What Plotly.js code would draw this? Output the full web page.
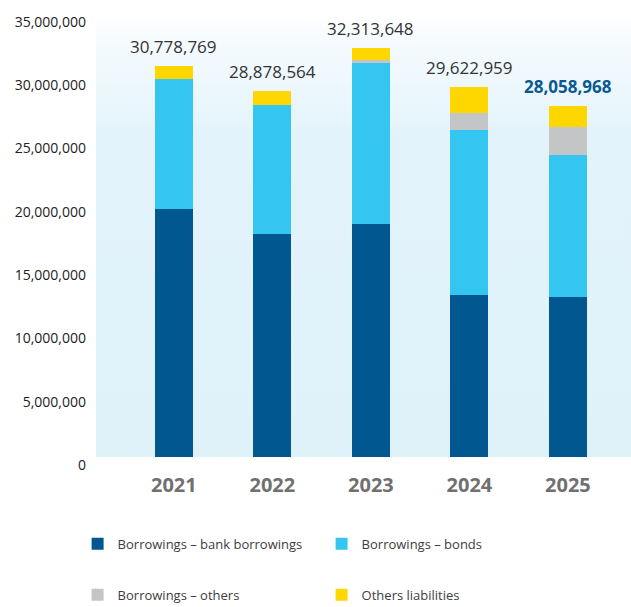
<!DOCTYPE html>
<html>
<head>
<meta charset="utf-8">
<script src="https://cdn.plot.ly/plotly-3.0.1.min.js"></script>
<style>html,body{margin:0;padding:0;background:#fff;}#chart{width:631px;height:607px;}</style>
</head>
<body>
<div id="chart"></div>
<script>
const years = ["2021", "2022", "2023", "2024", "2025"];
const bankBorrowings = [19600000, 17600000, 18400000, 12800000, 12640000];
const bonds = [10270000, 10200000, 12700000, 13040000, 11220000];
const otherBorrowings = [0, 0, 250000, 1310000, 2190000];
const otherLiabilities = [1000000, 1100000, 1000000, 2080000, 1680000];
const totalLabels = ["30,778,769", "28,878,564", "32,313,648", "29,622,959", "28,058,968"];
const yTickVals = [0, 5000000, 10000000, 15000000, 20000000, 25000000, 30000000, 35000000];
const yTickText = ["0", "5,000,000", "10,000,000", "15,000,000", "20,000,000", "25,000,000", "30,000,000", "35,000,000"];

const FONT = "Open Sans, DejaVu Sans, sans-serif";

function barTrace(name, vals, color, legend) {
  return {
    type: "bar", x: years, y: vals, name: name,
    marker: {color: color, line: {width: 0}},
    hoverinfo: "skip", legend: legend
  };
}

const data = [
  barTrace("Borrowings – bank borrowings", bankBorrowings, "#01578f", "legend"),
  barTrace("Borrowings – bonds", bonds, "#35c5f1", "legend"),
  barTrace("Borrowings – others", otherBorrowings, "#c4c5c7", "legend2"),
  barTrace("Others liabilities", otherLiabilities, "#ffd700", "legend2")
];

// stack top of each column, from the series themselves
const stackTops = years.map((_, i) => bankBorrowings[i] + bonds[i] + otherBorrowings[i] + otherLiabilities[i]);

const annotations = years.map((yr, i) => ({
  x: i, y: stackTops[i], xref: "x", yref: "y",
  text: i === 4 ? "<b>" + totalLabels[i] + "</b>" : totalLabels[i],
  showarrow: false, yanchor: "middle", yshift: 19.5,
  font: {family: FONT, size: 17, color: i === 4 ? "#0a5a92" : "#333333"}
}));

const gradSvg = '<svg xmlns="http://www.w3.org/2000/svg" width="10" height="100" preserveAspectRatio="none">' +
  '<defs><linearGradient id="g" x1="0" y1="0" x2="0" y2="1">' +
  '<stop offset="0" stop-color="#ffffff"/><stop offset="0.06" stop-color="#f5fbfe"/>' +
  '<stop offset="0.28" stop-color="#e3f3fb"/><stop offset="1" stop-color="#dff2fa"/>' +
  '</linearGradient></defs><rect width="10" height="100" fill="url(#g)"/></svg>';

const legendBase = {
  orientation: "h", xanchor: "left", yanchor: "middle", xref: "container", yref: "container",
  entrywidth: 199, entrywidthmode: "pixels", traceorder: "normal",
  font: {family: FONT, size: 13, color: "#3d3d3d"},
  bgcolor: "rgba(0,0,0,0)", itemclick: false, itemdoubleclick: false
};

const layout = {
  width: 631, height: 607,
  margin: {l: 96, r: 0, t: 14, b: 150},
  paper_bgcolor: "#ffffff",
  plot_bgcolor: "#dff2fa",
  barmode: "stack",
  bargap: 0.614,
  showlegend: true,
  font: {family: FONT, color: "#333"},
  images: [{
    source: "data:image/svg+xml;charset=utf-8," + encodeURIComponent(gradSvg),
    xref: "paper", yref: "paper", x: 0, y: 1, sizex: 1, sizey: 1,
    sizing: "stretch", layer: "below", xanchor: "left", yanchor: "top"
  }],
  xaxis: {
    type: "category", range: [-0.79, 4.64],
    showgrid: false, zeroline: false, showline: false, ticks: "",
    tickfont: {family: FONT, size: 20, color: "#707070", weight: "bold"},
    ticklabelstandoff: 14
  },
  yaxis: {
    range: [0, 35000000], showgrid: false, zeroline: false, showline: false,
    tickvals: yTickVals, ticktext: yTickText, ticks: "",
    tickfont: {family: FONT, size: 14, color: "#222"},
    ticklabelshift: 8, ticklabelstandoff: 9
  },
  legend: Object.assign({}, legendBase, {x: 0.123, y: 0.104}),
  legend2: Object.assign({}, legendBase, {x: 0.123, y: 0.02}),
  annotations: annotations
};

Plotly.newPlot("chart", data, layout, {displayModeBar: false, staticPlot: true});
</script>
</body>
</html>
